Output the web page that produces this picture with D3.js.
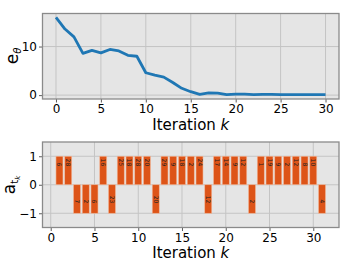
<!DOCTYPE html>
<html>
<head>
<meta charset="utf-8">
<script src="https://cdn.jsdelivr.net/npm/d3@7"></script>
<style>
  body { margin: 0; background: #fff; }
  svg { font-family: "DejaVu Sans", sans-serif; }
</style>
</head>
<body>
<main></main>
<script>
const width = 357, height = 268;

// top panel: error per iteration
const iters = d3.range(0, 31);
const errVals = [16.0, 13.6, 12.0, 8.6, 9.2, 8.7, 9.4, 9.1, 8.2, 8.0,
  4.6, 4.1, 3.7, 2.6, 1.4, 0.7, 0.15, 0.45, 0.4, 0.1,
  0.2, 0.2, 0.1, 0.15, 0.15, 0.12, 0.12, 0.12, 0.12, 0.12, 0.12];

// bottom panel: actions
const actK = d3.range(1, 32);
const actVals = [1, 1, -1, -1, -1, 1, -1, 1, 1, 1, 1, -1, 1, 1, 1, 1, 1, -1,
  1, 1, 1, 1, -1, 1, 1, 1, 1, 1, 1, 1, -1];
const actLabels = ["6", "28", "7", "2", "6", "16", "23", "25", "18", "28", "20", "20",
  "29", "9", "18", "2", "24", "12", "17", "14", "9", "12", "2", "1", "19", "9", "2",
  "12", "8", "10", "4"];

const xTicks = [0, 5, 10, 15, 20, 25, 30];

const svg = d3.select("main").append("svg")
    .attr("width", width)
    .attr("height", height);

const left = 42.5, right = 339;
const bg = "#e5e5e5", gridC = "#c4c4c4", frameC = "#8a8a8a";

function panel(top, bottom, xDomain, yDomain, yTicks) {
  const x = d3.scaleLinear().domain(xDomain).range([left, right]);
  const y = d3.scaleLinear().domain(yDomain).range([bottom, top]);
  const g = svg.append("g");
  g.append("rect")
      .attr("x", left).attr("y", top)
      .attr("width", right - left).attr("height", bottom - top)
      .attr("fill", bg);
  // grid
  g.selectAll(".gx").data(xTicks).enter().append("line")
      .attr("x1", d => x(d)).attr("x2", d => x(d))
      .attr("y1", top).attr("y2", bottom)
      .attr("stroke", gridC).attr("stroke-width", 1);
  g.selectAll(".gy").data(yTicks).enter().append("line")
      .attr("y1", d => y(d)).attr("y2", d => y(d))
      .attr("x1", left).attr("x2", right)
      .attr("stroke", gridC).attr("stroke-width", 1);
  return {x, y, g, top, bottom};
}

function frame(p, yTicks) {
  const xAxis = d3.axisBottom(p.x).tickValues(xTicks).tickSize(3.5).tickPadding(2);
  const yAxis = d3.axisLeft(p.y).tickValues(yTicks).tickSize(3.5).tickPadding(2)
      .tickFormat(d => d < 0 ? "\u2212" + Math.abs(d) : d);
  const ax = svg.append("g").attr("transform", "translate(0," + p.bottom + ")").call(xAxis);
  const ay = svg.append("g").attr("transform", "translate(" + left + ",0)").call(yAxis);
  [ax, ay].forEach(a => {
    a.select(".domain").remove();
    a.selectAll("line").attr("stroke", "#333").attr("stroke-width", 0.8);
    a.selectAll("text").attr("font-size", 12).attr("fill", "#000")
        .attr("font-family", "DejaVu Sans, sans-serif");
  });
  svg.append("rect")
      .attr("x", left).attr("y", p.top)
      .attr("width", right - left).attr("height", p.bottom - p.top)
      .attr("fill", "none").attr("stroke", frameC).attr("stroke-width", 1.3);
}

const midX = (left + right) / 2;

// ---- top panel
const p1 = panel(13.5, 99, [-1.5, 31.5], [-0.8, 16.8], [0, 10]);
const line = d3.line().x((d, i) => p1.x(iters[i])).y(d => p1.y(d));
p1.g.append("path")
    .datum(errVals)
    .attr("d", line)
    .attr("fill", "none")
    .attr("stroke", "#1f77b4")
    .attr("stroke-width", 2.8)
    .attr("stroke-linejoin", "round");
frame(p1, [0, 10]);

svg.append("text")
    .attr("x", midX).attr("y", 129.5)
    .attr("font-size", 15)
    .attr("text-anchor", "middle")
    .html('Iteration <tspan font-style="italic">k</tspan>');

svg.append("text")
    .attr("transform", "translate(18,56) rotate(-90)")
    .attr("text-anchor", "middle")
    .attr("font-size", 17)
    .html('e<tspan font-size="10" dy="2.5" font-style="italic">θ</tspan>');

// ---- bottom panel
const p2 = panel(142, 227.5, [-0.94, 32.94], [-1.5, 1.5], [-1, 0, 1]);
const bw = 0.8;
p2.g.selectAll(".bar").data(actVals).enter().append("rect")
    .attr("x", (d, i) => p2.x(actK[i] - bw / 2))
    .attr("width", (d, i) => p2.x(actK[i] + bw / 2) - p2.x(actK[i] - bw / 2))
    .attr("y", d => p2.y(Math.max(0, d)))
    .attr("height", d => Math.abs(p2.y(d) - p2.y(0)))
    .attr("fill", "#dd5418")
    .attr("stroke", "#f2b89a")
    .attr("stroke-width", 0.6);

p2.g.selectAll(".lbl").data(actVals).enter().append("text")
    .attr("transform", (d, i) => "translate(" + (p2.x(actK[i]) - 2) + "," + p2.y(d * 0.65) + ") rotate(90)")
    .attr("text-anchor", "end")
    .attr("font-size", 6)
    .attr("fill", "#222")
    .text((d, i) => actLabels[i]);
frame(p2, [-1, 0, 1]);

svg.append("text")
    .attr("x", midX).attr("y", 258)
    .attr("font-size", 15)
    .attr("text-anchor", "middle")
    .html('Iteration <tspan font-style="italic">k</tspan>');

svg.append("text")
    .attr("transform", "translate(15,185) rotate(-90)")
    .attr("text-anchor", "middle")
    .attr("font-size", 17)
    .html('a<tspan font-size="10" dy="3">t</tspan><tspan font-size="7" dy="2" font-style="italic">k</tspan>');
</script>
</body>
</html>
